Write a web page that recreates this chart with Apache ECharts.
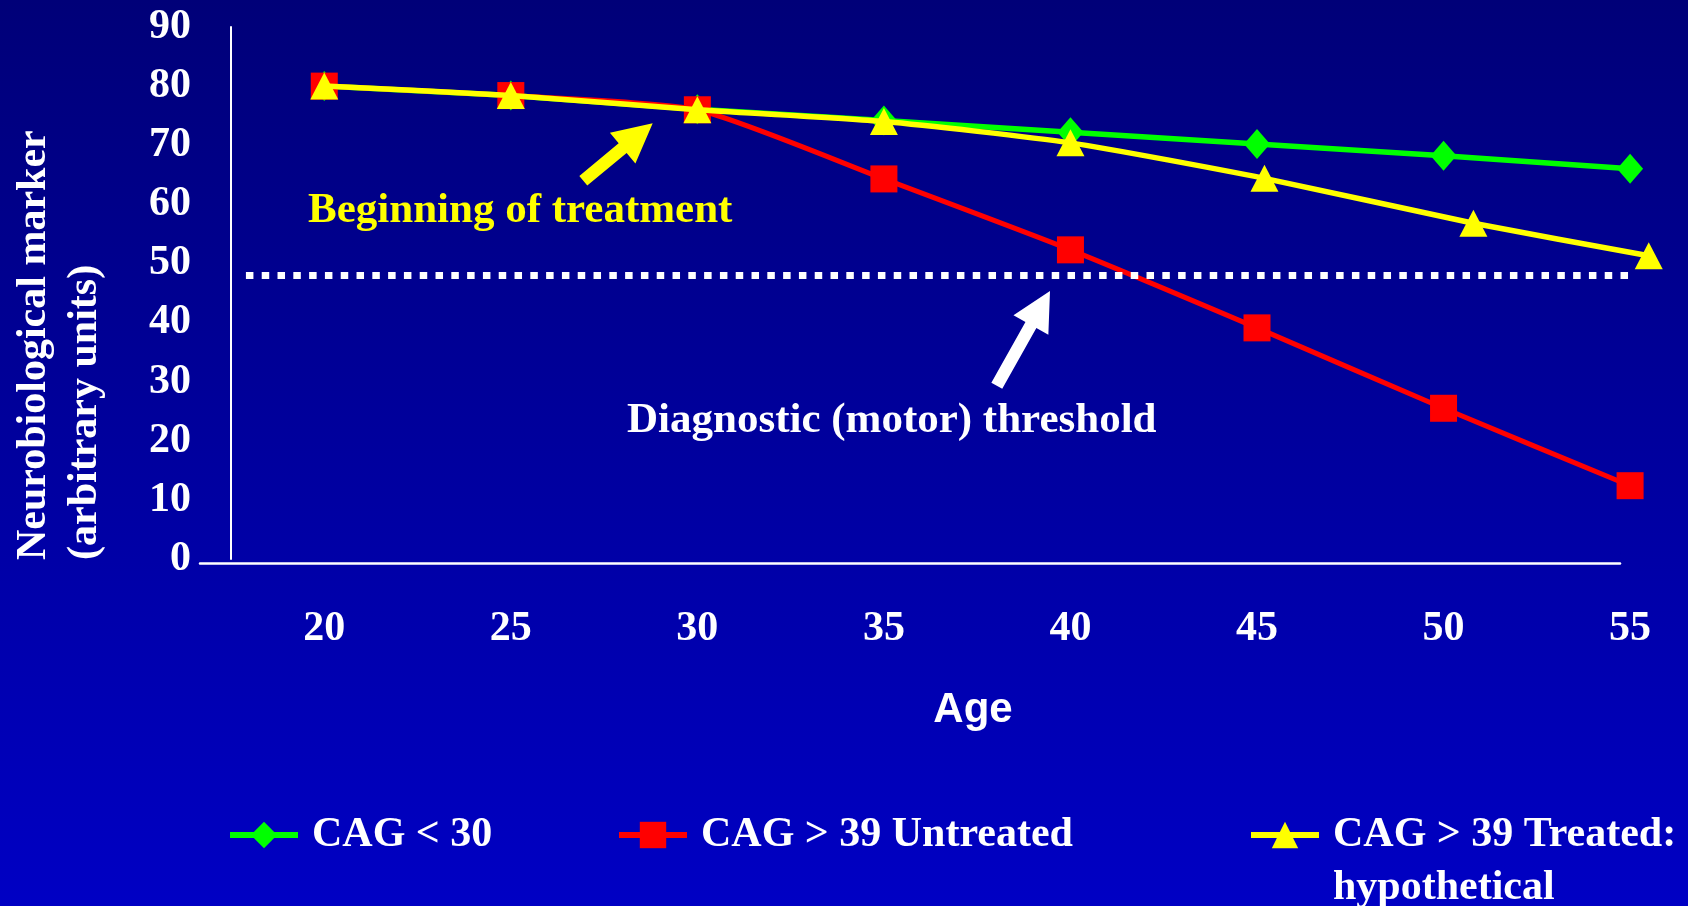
<!DOCTYPE html>
<html>
<head>
<meta charset="utf-8">
<title>Neurobiological marker by age</title>
<script src="https://cdn.jsdelivr.net/npm/echarts@6/dist/echarts.min.js"></script>
<style>
  html, body { margin: 0; padding: 0; background: #00007A; }
  #chart { width: 1688px; height: 906px; }
</style>
</head>
<body>
<div id="chart"></div>
<script>
// ---- data ----
const seriesNames = ['CAG < 30', 'CAG > 39 Untreated', 'CAG > 39 Treated: hypothetical'];

// [age, marker] pairs
const cagUnder30 = [[20, 80], [25, 78.4], [30, 76.1], [35, 74.2], [40, 72.2], [45, 70.2], [50, 68.2], [55, 66.0]];
const cagOver39Untreated = [[20, 80], [25, 78.4], [30, 76.0], [35, 64.3], [40, 52.3], [45, 39.1], [50, 25.5], [55, 12.4]];
const cagOver39Treated = [[20, 80], [25, 78.4], [30, 76.0], [35, 74.0], [40, 70.4], [45.2, 64.4], [50.8, 56.8], [55.5, 51.3]];

// diagnostic threshold: marker level and the age span it is drawn over
const thresholdLevel = 48;
const thresholdSpan = [17.9, 55];

const yTicks = [0, 90, 10];      // min, max, step
const xTicks = [17.5, 56, 2.5];  // min, max, step (labels every 5 years)

// ---- styling ----
const SERIF = '"Liberation Serif", "Times New Roman", Times, serif';
const SANS = '"Liberation Sans", Arial, Helvetica, sans-serif';
const GREEN = '#00FF00', RED = '#FF0000', YELLOW = '#FFFF00', WHITE = '#FFFFFF';

const chart = echarts.init(document.getElementById('chart'), null, { renderer: 'canvas' });

// block arrow polygon from tail to tip
function arrowPoints(tail, tip, shaftW, headW, headL) {
  const dx = tip[0] - tail[0], dy = tip[1] - tail[1];
  const len = Math.hypot(dx, dy);
  const ux = dx / len, uy = dy / len;
  const nx = -uy, ny = ux;
  const bx = tip[0] - ux * headL, by = tip[1] - uy * headL;
  const s = shaftW / 2, h = headW / 2;
  return [
    [tail[0] + nx * s, tail[1] + ny * s],
    [bx + nx * s, by + ny * s],
    [bx + nx * h, by + ny * h],
    [tip[0], tip[1]],
    [bx - nx * h, by - ny * h],
    [bx - nx * s, by - ny * s],
    [tail[0] - nx * s, tail[1] - ny * s]
  ];
}

const legendText = {
  color: WHITE,
  fontFamily: SERIF,
  fontWeight: 'bold',
  fontSize: 42,
  lineHeight: 53,
  padding: [0, 0, 0, 9]
};
const legendCommon = {
  padding: 0,
  itemWidth: 68,
  itemHeight: 33,
  selectedMode: false,
  lineStyle: { width: 6 },
  textStyle: legendText
};

const option = {
  backgroundColor: {
    type: 'linear', x: 0, y: 0, x2: 0, y2: 1,
    colorStops: [
      { offset: 0, color: '#000078' },
      { offset: 1, color: '#0000C4' }
    ]
  },
  animation: false,
  grid: [
    { left: 231, top: 27, width: 1436.4, height: 532, containLabel: false, outerBoundsMode: 'none' },
    // carries only the horizontal base line, which runs a little past the y axis
    { left: 200, top: 27, width: 1420, height: 536, containLabel: false, outerBoundsMode: 'none' }
  ],
  xAxis: [
    {
      gridIndex: 0,
      type: 'value',
      min: xTicks[0], max: xTicks[1], interval: xTicks[2],
      axisLine: { show: false },
      axisTick: { show: false },
      splitLine: { show: false },
      axisLabel: {
        margin: 49,
        color: WHITE,
        fontFamily: SERIF,
        fontWeight: 'bold',
        fontSize: 42,
        showMinLabel: true,
        showMaxLabel: true,
        formatter: v => (Math.abs(v % 5) < 1e-9 ? String(v) : '')
      }
    },
    {
      gridIndex: 1,
      type: 'value', min: 0, max: 1,
      axisLine: { show: true, onZero: false, lineStyle: { color: WHITE, width: 2.5 } },
      axisTick: { show: false },
      axisLabel: { show: false },
      splitLine: { show: false }
    }
  ],
  yAxis: [
    {
      gridIndex: 0,
      type: 'value',
      min: yTicks[0], max: yTicks[1], interval: yTicks[2],
      axisLine: { show: true, onZero: false, lineStyle: { color: WHITE, width: 2 } },
      axisTick: { show: false },
      splitLine: { show: false },
      axisLabel: {
        margin: 40,
        color: WHITE,
        fontFamily: SERIF,
        fontWeight: 'bold',
        fontSize: 42
      }
    },
    { gridIndex: 1, type: 'value', min: 0, max: 1, show: false }
  ],
  legend: [
    Object.assign({ data: [seriesNames[0]], left: 227, top: 808.5 }, legendCommon),
    Object.assign({ data: [seriesNames[1]], left: 616, top: 808.5 }, legendCommon),
    // two-line label: an empty first line keeps the icon level with "CAG > 39 Treated:"
    Object.assign({
      data: [seriesNames[2]], left: 1248, top: 755.5,
      formatter: name => '\n' + name.replace(': ', ':\n')
    }, legendCommon)
  ],
  series: [
    {
      name: seriesNames[0],
      type: 'line',
      data: cagUnder30,
      symbol: 'diamond',
      symbolSize: [26, 30],
      clip: false,
      color: GREEN,
      lineStyle: { color: GREEN, width: 5.5 },
      itemStyle: { color: GREEN },
      z: 2
    },
    {
      name: seriesNames[1],
      type: 'line',
      data: cagOver39Untreated,
      symbol: 'rect',
      symbolSize: 27,
      smooth: 0.2,
      clip: false,
      color: RED,
      lineStyle: { color: RED, width: 5 },
      itemStyle: { color: RED },
      z: 3,
      markLine: {
        silent: true,
        symbol: ['none', 'none'],
        label: { show: false },
        lineStyle: { color: WHITE, width: 7, type: [7.5, 8.3], cap: 'butt', opacity: 1 },
        emphasis: { disabled: true },
        data: [[
          { coord: [thresholdSpan[0], thresholdLevel] },
          { coord: [thresholdSpan[1], thresholdLevel] }
        ]]
      }
    },
    {
      name: seriesNames[2],
      type: 'line',
      data: cagOver39Treated,
      symbol: 'triangle',
      symbolSize: [28, 27],
      smooth: 0.2,
      clip: false,
      color: YELLOW,
      lineStyle: { color: YELLOW, width: 5.5 },
      itemStyle: { color: YELLOW },
      z: 4
    }
  ],
  graphic: [
    {
      type: 'text',
      x: 60, y: 560, rotation: Math.PI / 2,
      style: {
        text: 'Neurobiological marker\n(arbitrary units)',
        fill: WHITE,
        font: 'bold 42px ' + SERIF,
        lineHeight: 51,
        align: 'left',
        verticalAlign: 'middle'
      }
    },
    {
      type: 'text',
      x: 973, y: 710,
      style: {
        text: 'Age',
        fill: WHITE,
        font: 'bold 42px ' + SANS,
        align: 'center',
        verticalAlign: 'middle'
      }
    },
    {
      type: 'text',
      x: 308, y: 211,
      style: {
        text: 'Beginning of treatment',
        fill: YELLOW,
        font: 'bold 43px ' + SERIF,
        align: 'left',
        verticalAlign: 'middle'
      }
    },
    {
      type: 'text',
      x: 627, y: 421,
      style: {
        text: 'Diagnostic (motor) threshold',
        fill: WHITE,
        font: 'bold 43px ' + SERIF,
        align: 'left',
        verticalAlign: 'middle'
      }
    },
    {
      type: 'polygon',
      shape: { points: arrowPoints([583.3, 180.7], [652.7, 123.3], 12.5, 40, 39) },
      style: { fill: YELLOW }
    },
    {
      type: 'polygon',
      shape: { points: arrowPoints([996.8, 385.8], [1050, 291], 12.5, 40, 39) },
      style: { fill: WHITE }
    }
  ]
};

chart.setOption(option);
</script>
</body>
</html>
